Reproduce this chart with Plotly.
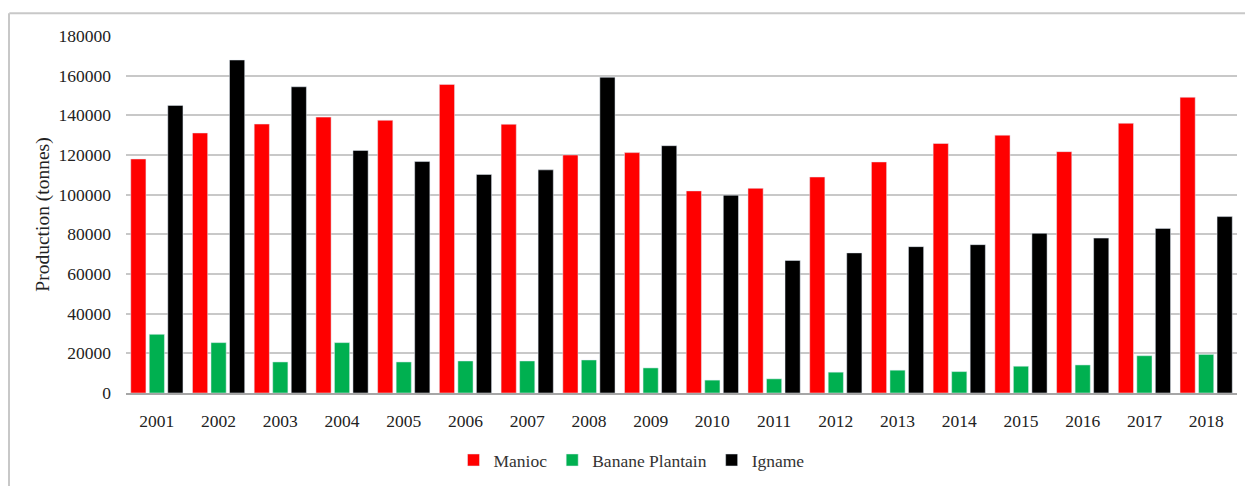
import plotly.graph_objects as go

years = [str(y) for y in range(2001, 2019)]
manioc = [118000, 131100, 135600, 139100, 137500, 155600, 135500, 120000, 121200,
          101900, 103200, 108900, 116500, 125800, 130000, 121700, 136000, 149100]
banane_plantain = [29600, 25400, 15650, 25400, 15650, 16150, 16150, 16650, 12650,
                   6500, 7150, 10500, 11500, 10800, 13500, 14150, 18800, 19450]
igname = [145000, 167900, 154400, 122300, 116700, 110200, 112500, 159200, 124700,
          99700, 66800, 70650, 73800, 74800, 80500, 78100, 83000, 88950]
y_ticks = list(range(0, 180001, 20000))

ff = "Liberation Serif"

fig = go.Figure()
fig.add_trace(go.Bar(name="Manioc", x=years, y=manioc, marker_color="#FF0000"))
fig.add_trace(go.Bar(name="Banane Plantain", x=years, y=banane_plantain, marker_color="#00B050"))
fig.add_trace(go.Bar(name="Igname", x=years, y=igname, marker_color="#000000"))

fig.update_layout(
    width=1245, height=486,
    margin=dict(l=126, r=8, t=36, b=89),
    paper_bgcolor="white", plot_bgcolor="white",
    barmode="group", bargap=0.1, bargroupgap=0.18,
    font=dict(family=ff, size=17, color="#222222"),
    showlegend=True,
    legend=dict(orientation="h", x=0.455, xanchor="center", y=-0.188, yanchor="middle",
                font=dict(family=ff, size=17.5, color="#333333"),
                itemwidth=30, traceorder="normal"),
    shapes=[
        dict(type="line", xref="paper", yref="paper", x0=-0.105, x1=1.1, y0=1.0637, y1=1.0637,
             line=dict(color="#c8c8c8", width=2)),
        dict(type="line", xref="paper", yref="paper", x0=-0.1053, x1=-0.1053, y0=1.0637, y1=-0.3,
             line=dict(color="#c8c8c8", width=2)),
    ],
)
fig.update_xaxes(showgrid=False, showline=True, linecolor="#a6a6a6", linewidth=1.5,
                 ticks="", tickfont=dict(family=ff, size=17.5, color="#222222"), ticklabelstandoff=11)
fig.update_yaxes(range=[0, 180000], tickvals=y_ticks, ticktext=[str(v) for v in y_ticks],
                 showgrid=True, gridcolor="#c8c8c8", gridwidth=1.5, zeroline=False,
                 tickfont=dict(family=ff, size=17.5, color="#222222"), ticklabelstandoff=14,
                 title=dict(text="Production (tonnes)", font=dict(family=ff, size=19.5, color="#222222"), standoff=3))

fig.write_html("out.html")
